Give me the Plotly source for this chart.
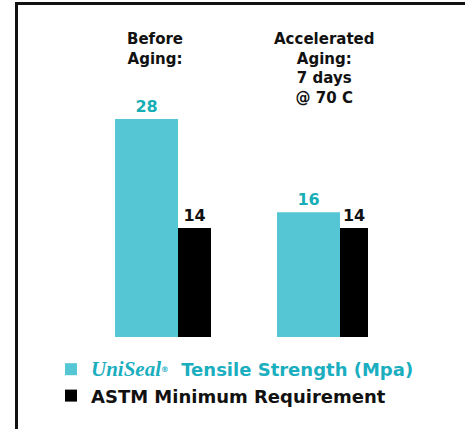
import plotly.graph_objects as go

# ---- data ----
categories = ["Before Aging:", "Accelerated Aging: 7 days @ 70 C"]
category_labels = ["Before<br>Aging:", "Accelerated<br>Aging:<br>7 days<br>@ 70 C"]
uniseal_values = [28, 16]
astm_values = [14, 14]
series_names = [
    '<span style="color:#1AAEBF">'
    '<span style="font-family:\'Liberation Serif\';font-size:21px"><b><i>UniSeal</i></b></span>'
    '<span style="font-size:11px"><sup>®</sup></span>  '
    'Tensile Strength (Mpa)</span>',
    "ASTM Minimum Requirement",
]

# ---- style / layout constants ----
W, H = 465, 429
CYAN = "#55C6D3"
CYAN_TEXT = "#17AEB6"
FONT = "DejaVu Sans"
px_per_cat = 162.0          # pixels between category centres
cat0_px = 178.0             # pixel x of first category centre
base_px = 337.0             # pixel y of zero line
px_per_unit = 7.79          # pixels per MPa

cyan_w = 63 / px_per_cat
black_w = [33 / px_per_cat, 28 / px_per_cat]
label_dx = [(154.5 - 178) / px_per_cat, (324 - 340) / px_per_cat]

xi = list(range(len(categories)))

fig = go.Figure()
fig.add_trace(go.Bar(
    x=xi, y=uniseal_values, name=series_names[0],
    width=[cyan_w] * len(xi), offset=-cyan_w,
    marker=dict(color=CYAN, line=dict(width=0)),
    text=[str(v) for v in uniseal_values], textposition="outside",
    textfont=dict(family=FONT, size=16, color=CYAN_TEXT, weight="bold"),
    cliponaxis=False,
))
fig.add_trace(go.Bar(
    x=xi, y=astm_values, name=series_names[1],
    width=black_w, offset=0,
    marker=dict(color="#000000", line=dict(width=0)),
    text=[str(v) for v in astm_values], textposition="outside",
    textfont=dict(family=FONT, size=16, color="#111111", weight="bold"),
    cliponaxis=False,
))

for i, lab in enumerate(category_labels):
    fig.add_annotation(
        x=xi[i] + label_dx[i], y=1 - 28 / H, xref="x", yref="paper",
        text=lab, showarrow=False, xanchor="center", yanchor="top",
        align="center",
        font=dict(family=FONT, size=15, color="#111111", weight="bold"),
    )

# frame (top and left edges visible)
fig.add_shape(type="rect", xref="paper", yref="paper",
              x0=16.5 / W, x1=1.2, y0=-0.2, y1=1 - 3.5 / H,
              line=dict(color="#111111", width=3), layer="above")

fig.update_layout(
    width=W, height=H,
    margin=dict(l=0, r=0, t=0, b=0),
    paper_bgcolor="white", plot_bgcolor="white",
    barmode="overlay",
    showlegend=True,
    legend=dict(
        x=51 / W, y=1 - 351 / H, xanchor="left", yanchor="top",
        font=dict(family=FONT, size=18, color="#111111", weight="bold"),
        bgcolor="rgba(0,0,0,0)", traceorder="normal",
    ),
    xaxis=dict(
        type="linear",
        range=[-cat0_px / px_per_cat, (W - cat0_px) / px_per_cat],
        visible=False, fixedrange=True,
    ),
    yaxis=dict(
        range=[-(H - base_px) / px_per_unit, base_px / px_per_unit],
        visible=False, fixedrange=True,
    ),
)

fig.write_html("out.html", config={"displayModeBar": False},
               post_script="document.body.style.margin='0';")
